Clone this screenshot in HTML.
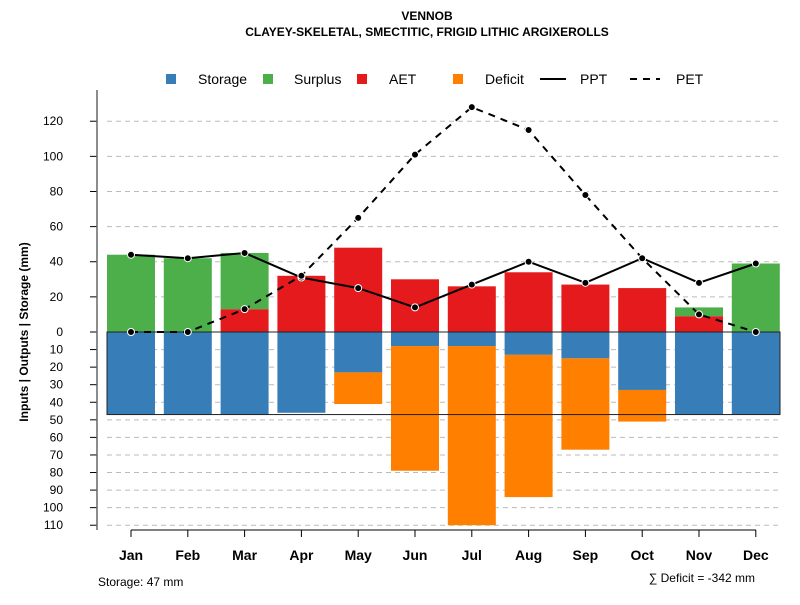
<!DOCTYPE html>
<html><head><meta charset="utf-8"><style>
body{margin:0;background:#fff;font-family:"Liberation Sans",sans-serif}
svg text{font-family:"Liberation Sans",sans-serif}
</style></head><body>
<svg id="c" width="800" height="600" xmlns="http://www.w3.org/2000/svg">
<text x="427" y="20" text-anchor="middle" font-size="12" font-weight="bold">VENNOB</text>
<text x="427" y="36" text-anchor="middle" font-size="12" font-weight="bold">CLAYEY-SKELETAL, SMECTITIC, FRIGID LITHIC ARGIXEROLLS</text>
<g id="grid"></g>
<g id="bars"></g>
<g id="axes"></g>
<g id="lines"></g>
<g>
<rect x="166" y="74" width="10" height="10" fill="#377EB8"/>
<text x="198" y="84" font-size="14">Storage</text>
<rect x="263" y="74" width="10" height="10" fill="#4DAF4A"/>
<text x="294" y="84" font-size="14">Surplus</text>
<rect x="357" y="74" width="10" height="10" fill="#E41A1C"/>
<text x="389" y="84" font-size="14">AET</text>
<rect x="453" y="74" width="10" height="10" fill="#FF7F00"/>
<text x="485" y="84" font-size="14">Deficit</text>
<line x1="540" y1="79" x2="566" y2="79" stroke="#000" stroke-width="2"/>
<text x="580" y="84" font-size="14">PPT</text>
<line x1="630" y1="79" x2="660" y2="79" stroke="#000" stroke-width="2" stroke-dasharray="7,6"/>
<text x="676" y="84" font-size="14">PET</text>
</g>
<text x="28" y="332" text-anchor="middle" font-size="12" font-weight="bold" transform="rotate(-90 28 332)">Inputs | Outputs | Storage    (mm)</text>
<text x="98" y="586" font-size="12">Storage: 47 mm</text>
<text x="755" y="582" text-anchor="end" font-size="12">∑ Deficit = -342 mm</text>
</svg>
<script>
const months=["Jan","Feb","Mar","Apr","May","Jun","Jul","Aug","Sep","Oct","Nov","Dec"];
const storage=[47,47,47,46,23,8,8,13,15,33,47,47];
const deficit=[0,0,0,0,18,71,102,81,52,18,0,0];
const aet=[0,0,13,32,48,30,26,34,27,25,9,0];
const surplus=[44,42,32,0,0,0,0,0,0,0,5,39];
const ppt=[44,42,45,31,25,14,27,40,28,42,28,39];
const pet=[0,0,13,32,65,101,128,115,78,42,10,0];
const posTicks=[0,20,40,60,80,100,120];
const negTicks=[10,20,30,40,50,60,70,80,90,100,110];
const capacity=47;
const NS="http://www.w3.org/2000/svg";
const y0=332,k=1.7565;
const yU=v=>y0-v*k, yD=v=>y0+v*k;
const xC=i=>131+i*56.8;
const bw=48;
function mk(p,t,a){const e=document.createElementNS(NS,t);for(const q in a)e.setAttribute(q,a[q]);p.appendChild(e);return e;}
const G=document.getElementById('grid'),B=document.getElementById('bars'),A=document.getElementById('axes'),L=document.getElementById('lines');
posTicks.forEach(v=>{if(v>0){const g=mk(G,'line',{x1:107,x2:780,y1:yU(v),y2:yU(v),stroke:'#bbb','stroke-dasharray':'5,4'});

}
const t=mk(A,'line',{x1:90,x2:97,y1:yU(v),y2:yU(v),stroke:'#000'});


const l=mk(A,'text',{x:63,y:yU(v)+4,'text-anchor':'end','font-size':12});l.textContent=v;

});
negTicks.forEach(v=>{const g=mk(G,'line',{x1:107,x2:780,y1:yD(v),y2:yD(v),stroke:'#bbb','stroke-dasharray':'5,4'});


const t=mk(A,'line',{x1:90,x2:97,y1:yD(v),y2:yD(v),stroke:'#000'});


const l=mk(A,'text',{x:63,y:yD(v)+4,'text-anchor':'end','font-size':12});l.textContent=v;

});
months.forEach((m,i)=>{const x=xC(i)-bw/2;
if(storage[i]>0){const r=mk(B,'rect',{x,y:y0,width:bw,height:storage[i]*k,fill:'#377EB8'});

}
if(deficit[i]>0){const r=mk(B,'rect',{x,y:yD(storage[i]),width:bw,height:deficit[i]*k,fill:'#FF7F00'});

}
if(aet[i]>0){const r=mk(B,'rect',{x,y:yU(aet[i]),width:bw,height:aet[i]*k,fill:'#E41A1C'});

}
if(surplus[i]>0){const r=mk(B,'rect',{x,y:yU(aet[i]+surplus[i]),width:bw,height:surplus[i]*k,fill:'#4DAF4A'});

}
const t=mk(A,'line',{x1:xC(i),x2:xC(i),y1:530,y2:537,stroke:'#000'});


const l=mk(A,'text',{x:xC(i),y:560,'text-anchor':'middle','font-size':14,'font-weight':'bold'});l.textContent=m;

});
const bx=mk(B,'rect',{x:107,y:y0,width:673,height:capacity*k,fill:'none',stroke:'#222','stroke-width':1});


const ya=mk(A,'line',{x1:97,x2:97,y1:90,y2:530,stroke:'#666','stroke-width':1.5});


const xa=mk(A,'line',{x1:131,x2:756,y1:530,y2:530,stroke:'#000'});


function series(arr,name,dash){const pl=mk(L,'polyline',{points:arr.map((v,i)=>xC(i)+','+yU(v)).join(' '),fill:'none',stroke:'#000','stroke-width':2,'stroke-dasharray':dash||'none'});


arr.forEach((v,i)=>{const c=mk(L,'circle',{cx:xC(i),cy:yU(v),r:3.5,fill:'#000',stroke:'#fff','stroke-width':1});

});}
series(ppt,'ppt');
series(pet,'pet','7,6');
</script>
</body></html>
